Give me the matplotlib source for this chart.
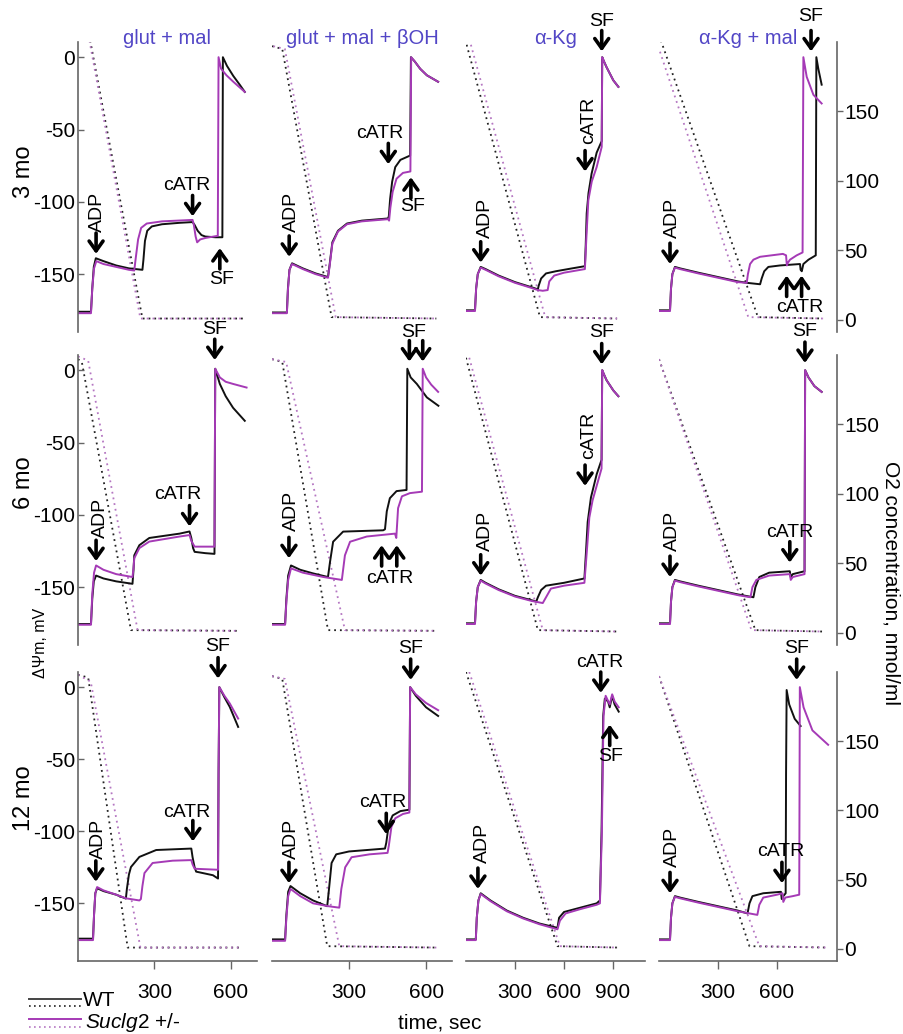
import matplotlib
matplotlib.use('Agg')
import matplotlib.pyplot as plt
from matplotlib.lines import Line2D

plt.rcParams['font.family'] = ['Liberation Sans', 'DejaVu Sans']
plt.rcParams['axes.unicode_minus'] = False
plt.rcParams['mathtext.fontset'] = 'custom'
plt.rcParams['mathtext.rm'] = 'Liberation Sans'
plt.rcParams['mathtext.it'] = 'Liberation Sans:italic'

titles = ['glut + mal', 'glut + mal + βOH', 'α-Kg', 'α-Kg + mal']
ages = ['3 mo', '6 mo', '12 mo']
t_max = [703, 701, 1096, 905]
xtick_sets = [[300, 600], [300, 600], [300, 600, 900], [300, 600]]
mv_ticks = [-150, -100, -50, 0]
o2_ticks = [0, 50, 100, 150]

# (time s, mV) for delta psi, (time s, nmol/ml) for O2; wt = WT, kd = Suclg2 +/-
dpsi_wt_11 = [(0, -176), (51, -176), (56, -160), (62, -145), (70, -139), (100, -141), (150, -144), (200, -146),
              (253, -147), (257, -140), (263, -127), (272, -120), (290, -117), (330, -115.5), (400, -114.5),
              (450, -114), (458, -116), (470, -120), (485, -123), (500, -124), (540, -124.5), (567, -124.5),
              (569, 0), (585, -6), (610, -13), (635, -19), (655, -24)]
dpsi_kd_11 = [(0, -177), (51, -177), (56, -160), (63, -146), (72, -141), (100, -143), (150, -145), (200, -147),
              (221, -147.5), (226, -140), (236, -126), (248, -118), (270, -115), (330, -113.5), (450, -112.5),
              (455, -116), (462, -124), (468, -128), (480, -126), (500, -125), (549, -123.5), (552, 0),
              (562, -8), (583, -12.5), (610, -17), (655, -24)]
o2_wt_11 = [(48, 201), (253, 1), (650, 1)]
o2_kd_11 = [(45, 201), (245, 1), (650, 1)]

dpsi_wt_12 = [(0, -176.5), (58, -176.5), (62, -160), (68, -147), (78, -142.5), (120, -146), (170, -149.5),
              (218, -152), (224, -144), (235, -128), (257, -120), (292, -115), (350, -113), (452, -111.5),
              (455, -110), (460, -98), (468, -86), (480, -76), (500, -71), (538, -68), (541, 0), (556, -3),
              (577, -8), (603, -12.5), (647, -17)]
dpsi_kd_12 = [(0, -177), (58, -177), (62, -161), (68, -147), (78, -143), (120, -146.5), (170, -150),
              (218, -152.5), (224, -145), (235, -129), (257, -120.5), (292, -115.5), (350, -113.5),
              (452, -112), (456, -113), (461, -104), (470, -93), (485, -84), (510, -80), (539, -79), (542, 0),
              (556, -3), (577, -8), (603, -12.5), (647, -17)]
o2_wt_12 = [(0, 197), (40, 195), (232, 2), (640, 1)]
o2_kd_12 = [(5, 197), (50, 195), (248, 2), (640, 1)]

dpsi_wt_13 = [(0, -175), (55, -175), (62, -160), (72, -150), (90, -145), (120, -146.5), (200, -151),
              (300, -155.5), (400, -159), (440, -160.5), (445, -158), (460, -153), (490, -149.5), (550, -148),
              (650, -146), (728, -144.5), (733, -130), (739, -108), (750, -94), (769, -80.5), (800, -66),
              (831, -58), (834, 0), (845, -3), (861, -7), (902, -16), (933, -20.5)]
dpsi_kd_13 = [(0, -175.5), (55, -175.5), (62, -160), (72, -150), (90, -145.5), (120, -147), (200, -151.5),
              (300, -156), (400, -159.5), (440, -161), (470, -161.5), (500, -161), (510, -155), (540, -151),
              (600, -149), (728, -146.5), (737, -125), (749, -99), (770, -86), (800, -76), (831, -62),
              (834, 0), (845, -3), (861, -7), (902, -16), (933, -20.5)]
o2_wt_13 = [(4, 198), (453, 2), (925, 1)]
o2_kd_13 = [(30, 198), (485, 2), (925, 1)]

dpsi_wt_14 = [(0, -175), (56, -175), (61, -160), (68, -150), (81, -145), (107, -146), (200, -149), (300, -152),
              (400, -155), (447, -156), (514, -157), (522, -153), (535, -148), (556, -145), (615, -144),
              (717, -143), (720, -147), (726, -148), (734, -143), (760, -140), (797, -137), (800, 0),
              (810, -8), (827, -19)]
dpsi_kd_14 = [(0, -175.5), (56, -175.5), (61, -160), (68, -150), (81, -145.5), (107, -146.5), (200, -149.5),
              (300, -152.5), (400, -155.5), (446, -156), (452, -150), (463, -143), (480, -140), (514, -138),
              (630, -136), (646, -137), (650, -144), (656, -142), (666, -140), (700, -137), (730, -135),
              (734, 0), (751, -13.6), (785, -26), (827, -32)]
o2_wt_14 = [(0, 205), (503, 2), (834, 1)]
o2_kd_14 = [(5, 193), (454, 2), (834, 1)]

dpsi_wt_21 = [(0, -175.5), (51, -175.5), (56, -158), (62, -146), (71, -142), (100, -144), (150, -146),
              (214, -147.7), (218, -138), (221, -128), (241, -121), (280, -116), (399, -113), (438, -111.5),
              (445, -116), (452, -123), (458, -125.6), (500, -126.5), (536, -127), (539, 1), (557, -9.5),
              (580, -18), (609, -26), (655, -35)]
dpsi_kd_21 = [(0, -176), (51, -176), (56, -155), (63, -140), (71, -135), (100, -138), (150, -141),
              (214, -143), (218, -137), (221, -130), (241, -123), (280, -118.5), (399, -115), (438, -114),
              (445, -118), (458, -122), (536, -122), (539, 1), (557, -5), (580, -8), (609, -9.5), (662, -12)]
o2_wt_21 = [(0, 197), (15, 195), (208, 2), (625, 1.5)]
o2_kd_21 = [(0, 199), (40, 196), (234, 2), (625, 1.5)]

dpsi_wt_22 = [(0, -175.5), (51, -175.5), (56, -158), (63, -142), (74, -135), (110, -138), (160, -140.5),
              (218, -143), (226, -132.5), (238, -118.6), (277, -111.6), (433, -110.7), (440, -110),
              (447, -97.6), (459, -88.5), (485, -83.6), (524, -82.8), (527, 1), (540, -5), (564, -9.5),
              (603, -18.8), (648, -24.6)]
dpsi_kd_22 = [(0, -176), (51, -176), (56, -160), (63, -145), (74, -137), (120, -140), (200, -143),
              (272, -145), (284, -128), (304, -118.6), (369, -115), (479, -113), (484, -116), (491, -95.4),
              (506, -87.2), (537, -85), (584, -84), (587, 1), (600, -5), (620, -10), (647, -15)]
o2_wt_22 = [(0, 197), (40, 195), (218, 2), (643, 1.5)]
o2_kd_22 = [(0, 197), (55, 195), (284, 2), (643, 1.5)]

dpsi_wt_23 = [(0, -175), (55, -175), (62, -160), (72, -150), (90, -145), (120, -147), (200, -151.5),
              (300, -156), (400, -159), (430, -160), (440, -157), (460, -152), (490, -149), (600, -147),
              (725, -144), (735, -125), (745, -105), (765, -88), (800, -72), (830, -62), (834, 0), (845, -3),
              (861, -7), (902, -14), (933, -18)]
dpsi_kd_23 = [(0, -175.5), (55, -175.5), (62, -160), (72, -150), (90, -145.5), (120, -147.5), (200, -152),
              (300, -156.5), (400, -159.5), (470, -161), (490, -157), (520, -151), (600, -149), (725, -147),
              (740, -125), (755, -102), (775, -90), (800, -80), (830, -68), (834, 0), (845, -3), (861, -7),
              (902, -14), (933, -18)]
o2_wt_23 = [(0, 198), (440, 2), (930, 1)]
o2_kd_23 = [(20, 198), (470, 2), (930, 1)]

dpsi_wt_24 = [(0, -175), (56, -175), (61, -160), (68, -150), (81, -145), (107, -146), (200, -149), (300, -152),
              (400, -155), (480, -157), (490, -150), (510, -143), (560, -140), (665, -139), (670, -143),
              (680, -141), (740, -139), (743, 0), (760, -5), (790, -11), (827, -15)]
dpsi_kd_24 = [(0, -175.5), (56, -175.5), (61, -160), (68, -150), (81, -145.5), (107, -146.5), (200, -149.5),
              (300, -152.5), (400, -155.5), (465, -157), (475, -150), (495, -145), (560, -142), (665, -141),
              (670, -145), (680, -143), (740, -141), (743, 0), (760, -5), (790, -11), (827, -15)]
o2_wt_24 = [(0, 197), (490, 2), (830, 1)]
o2_kd_24 = [(0, 197), (470, 2), (830, 1)]

dpsi_wt_31 = [(0, -174.5), (59, -174.5), (63, -158), (68, -143), (75, -139.5), (100, -141.5), (150, -144),
              (188, -146.7), (192, -140), (200, -130), (208, -124.8), (241, -117.8), (307, -113), (445, -112),
              (450, -118), (458, -125), (464, -128), (530, -130.5), (550, -132.8), (552, -60), (555, 0),
              (575, -7), (596, -13.7), (629, -27.6)]
dpsi_kd_31 = [(0, -175.5), (59, -175.5), (63, -158), (68, -143), (75, -138.7), (100, -141), (150, -144),
              (188, -146.5), (241, -148), (247, -147), (253, -138), (261, -129), (293, -122), (372, -120.4),
              (445, -120), (450, -123), (458, -126), (550, -126.7), (552, -60), (555, 0), (575, -6),
              (596, -11.3), (629, -21.8)]
o2_wt_31 = [(0, 198), (40, 196), (195, 1), (640, 1)]
o2_kd_31 = [(0, 198), (50, 193), (245, 1), (640, 1)]

dpsi_wt_32 = [(0, -175), (51, -175), (56, -158), (63, -142), (72, -138), (110, -143), (160, -148), (215, -152),
              (222, -140), (232, -122), (250, -116), (300, -114), (440, -112), (445, -108), (455, -95),
              (470, -89), (500, -86), (535, -85), (538, 0), (560, -6), (600, -14), (647, -20)]
dpsi_kd_32 = [(0, -176), (51, -176), (56, -160), (63, -145), (72, -140), (110, -145), (160, -150), (220, -152),
              (262, -153), (270, -140), (285, -125), (310, -118), (380, -116), (450, -115), (455, -110),
              (465, -97), (480, -91), (510, -88), (535, -87), (538, 0), (560, -5), (600, -11), (647, -16)]
o2_wt_32 = [(0, 197), (40, 195), (215, 2), (640, 1)]
o2_kd_32 = [(0, 197), (50, 195), (262, 2), (640, 1)]

dpsi_wt_33 = [(0, -175), (60, -175), (66, -160), (76, -148), (90, -143), (150, -148), (250, -155), (350, -160),
              (450, -164), (560, -167), (570, -160), (600, -156), (700, -153), (800, -150), (820, -148),
              (830, -100), (840, -20), (850, -8), (870, -10), (880, -14), (895, -6), (910, -12), (935, -17)]
dpsi_kd_33 = [(0, -175.5), (60, -175.5), (66, -160), (76, -148), (90, -143.5), (150, -148.5), (250, -155.5),
              (350, -160.5), (450, -164.5), (560, -168), (575, -162), (610, -157), (700, -154), (800, -151),
              (820, -150), (832, -100), (842, -20), (855, -6), (880, -12), (895, -5), (910, -10), (935, -14)]
o2_wt_33 = [(0, 200), (560, 2), (930, 1)]
o2_kd_33 = [(20, 200), (575, 2), (930, 1)]

dpsi_wt_34 = [(0, -175), (56, -175), (61, -160), (68, -150), (81, -145), (107, -146), (200, -149), (300, -152),
              (400, -155), (450, -157), (460, -150), (475, -145), (530, -143), (620, -142), (624, -147),
              (632, -145), (644, -143), (646, -60), (649, -2), (662, -12), (690, -22), (720, -27)]
dpsi_kd_34 = [(0, -175.5), (56, -175.5), (61, -160), (68, -150), (81, -145.5), (107, -146.5), (200, -149.5),
              (300, -152.5), (400, -155.5), (500, -158), (510, -151), (530, -146), (600, -144), (628, -143),
              (632, -149), (642, -146), (680, -145), (713, -144), (716, 0), (735, -14), (780, -30), (860, -40)]
o2_wt_34 = [(0, 197), (460, 2), (860, 1)]
o2_kd_34 = [(0, 197), (510, 2), (860, 1)]

# arrows: (time, tip mV, direction); labels: (text, time, mV, rotation)
arrows_11 = [(71, -136, 'down'), (450, -110, 'down'), (557, -132, 'up')]
labels_11 = [('ADP', 76, -107, 90), ('cATR', 426, -89, 0), ('SF', 564, -154, 0)]
arrows_12 = [(67, -138, 'down'), (453, -74, 'down'), (541, -83, 'up')]
labels_12 = [('ADP', 77, -107, 90), ('cATR', 421, -53, 0), ('SF', 547, -103, 0)]
arrows_13 = [(90, -142, 'down'), (729, -79, 'down'), (831, 4, 'down')]
labels_13 = [('ADP', 119, -111, 90), ('cATR', 748, -44, 90), ('SF', 831, 25, 0)]
arrows_14 = [(56, -143, 'down'), (649, -151, 'up'), (725, -151, 'up'), (773, 4, 'down')]
labels_14 = [('ADP', 69, -111, 90), ('cATR', 717, -173, 0), ('SF', 773, 28, 0)]
arrows_21 = [(71, -132, 'down'), (438, -108, 'down'), (537, 7, 'down')]
labels_21 = [('ADP', 87, -102, 90), ('cATR', 391, -86, 0), ('SF', 537, 28, 0)]
arrows_22 = [(66, -130, 'down'), (427, -121, 'up'), (486, -121, 'up'), (535, 6, 'down'), (587, 6, 'down')]
labels_22 = [('ADP', 77, -97, 90), ('cATR', 460, -144, 0), ('SF', 550, 26, 0)]
arrows_23 = [(90, -142, 'down'), (729, -80, 'down'), (831, 4, 'down')]
labels_23 = [('ADP', 119, -111, 90), ('cATR', 748, -45, 90), ('SF', 831, 26, 0)]
arrows_24 = [(56, -143, 'down'), (665, -133, 'down'), (742, 5, 'down')]
labels_24 = [('ADP', 69, -111, 90), ('cATR', 665, -112, 0), ('SF', 742, 27, 0)]
arrows_31 = [(70, -135, 'down'), (451, -107, 'down'), (550, 6, 'down')]
labels_31 = [('ADP', 79, -105, 90), ('cATR', 426, -87, 0), ('SF', 550, 28, 0)]
arrows_32 = [(66, -136, 'down'), (445, -102, 'down'), (540, 5, 'down')]
labels_32 = [('ADP', 77, -105, 90), ('cATR', 430, -80, 0), ('SF', 540, 27, 0)]
arrows_33 = [(73, -140, 'down'), (825, -4, 'down'), (880, -26, 'up')]
labels_33 = [('ADP', 100, -108, 90), ('cATR', 820, 17, 0), ('SF', 885, -48, 0)]
arrows_34 = [(56, -143, 'down'), (625, -136, 'down'), (700, 5, 'down')]
labels_34 = [('ADP', 69, -111, 90), ('cATR', 620, -114, 0), ('SF', 700, 27, 0)]

panels = [
    [(dpsi_wt_11, dpsi_kd_11, o2_wt_11, o2_kd_11, arrows_11, labels_11),
     (dpsi_wt_12, dpsi_kd_12, o2_wt_12, o2_kd_12, arrows_12, labels_12),
     (dpsi_wt_13, dpsi_kd_13, o2_wt_13, o2_kd_13, arrows_13, labels_13),
     (dpsi_wt_14, dpsi_kd_14, o2_wt_14, o2_kd_14, arrows_14, labels_14)],
    [(dpsi_wt_21, dpsi_kd_21, o2_wt_21, o2_kd_21, arrows_21, labels_21),
     (dpsi_wt_22, dpsi_kd_22, o2_wt_22, o2_kd_22, arrows_22, labels_22),
     (dpsi_wt_23, dpsi_kd_23, o2_wt_23, o2_kd_23, arrows_23, labels_23),
     (dpsi_wt_24, dpsi_kd_24, o2_wt_24, o2_kd_24, arrows_24, labels_24)],
    [(dpsi_wt_31, dpsi_kd_31, o2_wt_31, o2_kd_31, arrows_31, labels_31),
     (dpsi_wt_32, dpsi_kd_32, o2_wt_32, o2_kd_32, arrows_32, labels_32),
     (dpsi_wt_33, dpsi_kd_33, o2_wt_33, o2_kd_33, arrows_33, labels_33),
     (dpsi_wt_34, dpsi_kd_34, o2_wt_34, o2_kd_34, arrows_34, labels_34)],
]

WT_COL = '#111111'
KD_COL = '#a53ab6'
O2_WT_COL = '#222222'
O2_KD_COL = '#b577c2'
SPINE = '#666666'
TITLE_COL = '#5246c6'

W, H = 904, 1034
fig = plt.figure(figsize=(W / 100, H / 100), dpi=100)

col_px = [(78, 257), (272, 452), (466, 645), (659, 837)]
row_px = [(42, 332), (355, 645), (672, 961)]


def fx(x):
    return x / W


def fy(y):
    return 1 - y / H


def xy(pts):
    return [p[0] for p in pts], [p[1] for p in pts]


def put_arrow(ax, t, tip, way):
    dy = 15 if way == 'down' else -15
    ax.annotate('', xy=(t, tip), xytext=(0, dy), textcoords='offset points',
                annotation_clip=False,
                arrowprops=dict(arrowstyle='->,head_length=0.35,head_width=0.25', lw=2.6,
                                color='black', shrinkA=0, shrinkB=0, mutation_scale=20))


for r in range(3):
    for c in range(4):
        wt, kd, o2wt, o2kd, arrows, labels = panels[r][c]
        l, rr = col_px[c]
        t, b = row_px[r]
        ax = fig.add_axes([fx(l), fy(b), fx(rr - l), (b - t) / H])
        ax2 = ax.twinx()
        ax.set_zorder(ax2.get_zorder() + 1)
        ax.patch.set_visible(False)

        ax2.plot(*xy(o2wt), color=O2_WT_COL, lw=1.3, ls=(0, (1, 2.2)))
        ax2.plot(*xy(o2kd), color=O2_KD_COL, lw=1.3, ls=(0, (1, 2.2)))
        ax.plot(*xy(wt), color=WT_COL, lw=1.4)
        ax.plot(*xy(kd), color=KD_COL, lw=1.4)

        ax.set_xlim(0, t_max[c])
        ax.set_ylim(-190, 10.5)
        ax2.set_ylim(-8.7, 200)

        for a in (ax, ax2):
            for s in a.spines.values():
                s.set_visible(False)
                s.set_color(SPINE)
                s.set_linewidth(1.2)

        ax.set_yticks(mv_ticks)
        ax.set_xticks(xtick_sets[c])
        ax2.set_yticks(o2_ticks)
        ax.tick_params(left=False, labelleft=False, bottom=False, labelbottom=False)
        ax2.tick_params(right=False, labelright=False)
        if c == 0:
            ax.spines['left'].set_visible(True)
            ax.tick_params(left=True, labelleft=True, direction='in', length=4, width=1,
                           color=SPINE, labelsize=15, pad=2, axis='y')
        if c == 3:
            ax2.spines['right'].set_visible(True)
            ax2.tick_params(right=True, labelright=True, direction='out', length=4, width=1,
                            color=SPINE, labelsize=15, pad=1)
        if r == 2:
            ax.spines['bottom'].set_visible(True)
            ax.tick_params(bottom=True, labelbottom=True, direction='out', length=6, width=1,
                           color=SPINE, labelsize=15, pad=10, axis='x')

        for at, tip, way in arrows:
            put_arrow(ax, at, tip, way)
        for txt, lt, lv, rot in labels:
            ax.text(lt, lv, txt, rotation=rot, ha='center', va='center', fontsize=14, clip_on=False)

        if r == 0:
            fig.text(fx((l + rr) / 2), fy(38), titles[c], color=TITLE_COL, fontsize=14.5,
                     ha='center', va='center')

for r in range(3):
    centers = [172, 483, 798]
    fig.text(fx(24), fy(centers[r]), ages[r], rotation=90, fontsize=17, ha='center', va='center')

fig.text(fx(41), fy(643), 'ΔΨm, mV', rotation=90, fontsize=11.5, ha='center', va='center')
fig.text(fx(891), fy(583), 'O2 concentration, nmol/ml', rotation=270, fontsize=15, ha='center', va='center')
fig.text(fx(440), fy(1023), 'time, sec', fontsize=15, ha='center', va='center')

# legend drawn by hand: solid = delta psi, dotted = O2
fig.add_artist(Line2D([fx(29), fx(81)], [fy(999), fy(999)], color='#444444', lw=1.4))
fig.add_artist(Line2D([fx(29), fx(81)], [fy(1006), fy(1006)], color=O2_WT_COL, lw=1.2, ls=(0, (1, 2))))
fig.add_artist(Line2D([fx(29), fx(81)], [fy(1019), fy(1019)], color=KD_COL, lw=1.4))
fig.add_artist(Line2D([fx(29), fx(81)], [fy(1027), fy(1027)], color=O2_KD_COL, lw=1.2, ls=(0, (1, 2))))
fig.text(fx(83), fy(1000), 'WT', fontsize=15, ha='left', va='center')
fig.text(fx(85), fy(1023), r'$\mathit{Suclg2}$ +/-', fontsize=15, ha='left', va='center')

fig.savefig('out.png', dpi=100)
